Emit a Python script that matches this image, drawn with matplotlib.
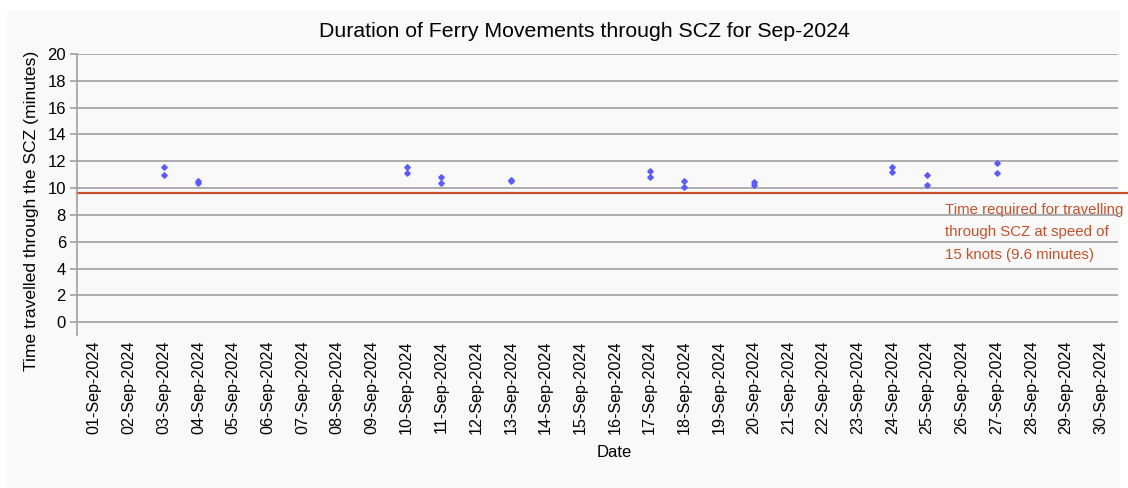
import matplotlib.pyplot as plt
from matplotlib.patches import Rectangle

plt.rcParams['font.family'] = ['Liberation Sans', 'DejaVu Sans']

# --- data ---
dates = [f"{d:02d}-Sep-2024" for d in range(1, 31)]
trip_dates = ["03-Sep-2024", "03-Sep-2024", "04-Sep-2024", "04-Sep-2024",
              "10-Sep-2024", "10-Sep-2024", "11-Sep-2024", "11-Sep-2024",
              "13-Sep-2024", "13-Sep-2024", "17-Sep-2024", "17-Sep-2024",
              "18-Sep-2024", "18-Sep-2024", "20-Sep-2024", "20-Sep-2024",
              "24-Sep-2024", "24-Sep-2024", "25-Sep-2024", "25-Sep-2024",
              "27-Sep-2024", "27-Sep-2024"]
trip_minutes = [11.6, 10.95, 10.5, 10.4,
                11.55, 11.1, 10.8, 10.35,
                10.6, 10.5, 11.25, 10.85,
                10.5, 10.1, 10.45, 10.25,
                11.55, 11.2, 10.95, 10.25,
                11.85, 11.1]
threshold = 9.6
yticks = list(range(0, 21, 2))

# --- figure ---
fig = plt.figure(figsize=(11.28, 4.88), dpi=100, facecolor='white')
fig.patches.append(Rectangle((7 / 1128, 0), 1113 / 1128, 477 / 488,
                             transform=fig.transFigure, facecolor='#f9f9f9',
                             edgecolor='none', zorder=-10))
ax = fig.add_axes([77 / 1128, 1 - 335 / 488, 1041 / 1128, 281 / 488])
ax.set_facecolor('#f9f9f9')

xpos = [dates.index(d) for d in trip_dates]
ax.plot(xpos, trip_minutes, linestyle='none', marker='D', markersize=2.8,
        color='#5a5aff', zorder=3)

# threshold line runs a bit past the plot area, to the panel edge
ax.axhline(threshold, xmin=0, xmax=1051 / 1041, color='#c8502a', lw=1.6,
           clip_on=False, zorder=2)
ax.text(0.834, 0.471, "Time required for travelling\nthrough SCZ at speed of\n15 knots (9.6 minutes)",
        transform=ax.transAxes, va='top', ha='left', fontsize=10.8,
        color='#c8502a', linespacing=1.8)

ax.set_xlim(-0.5, len(dates) - 0.5)
ax.set_ylim(-0.95, 20)
ax.set_xticks(range(len(dates)))
ax.set_xticklabels(dates, rotation=90, fontsize=11.6)
ax.set_yticks(yticks)
ax.set_yticklabels([str(v) for v in yticks], fontsize=12)
ax.tick_params(axis='x', length=0, pad=4)
ax.tick_params(axis='y', length=5, width=1.2, color='#a0a0a0', pad=3)

for v in yticks:
    ax.axhline(v, color='#a0a0a0', lw=1.2, zorder=1)
for s in ['top', 'right', 'bottom']:
    ax.spines[s].set_visible(False)
ax.spines['left'].set_color('#a0a0a0')
ax.spines['left'].set_linewidth(1.2)

ax.set_title("Duration of Ferry Movements through SCZ for Sep-2024",
             fontsize=15.3, pad=12, x=0.4875)
ax.set_xlabel("Date", fontsize=12, labelpad=8, x=0.516)
ax.set_ylabel("Time travelled through the SCZ (minutes)", fontsize=12.6,
              labelpad=6, y=0.441)

fig.savefig("out.png", dpi=100, facecolor='white')
